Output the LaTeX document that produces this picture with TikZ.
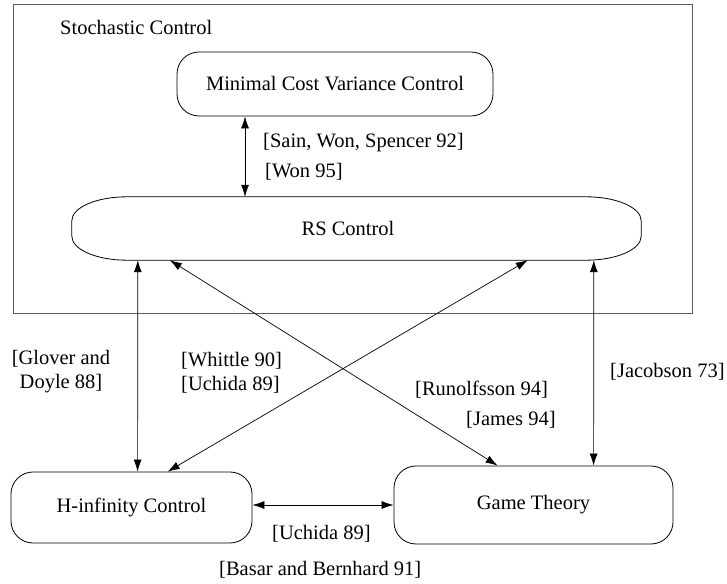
\documentclass[tikz,border=0pt]{standalone}
\usepackage{fontspec}
\setmainfont{Liberation Serif}
\usetikzlibrary{arrows.meta,positioning}
\definecolor{frameGray}{RGB}{90,90,90}

\begin{document}
\begin{tikzpicture}[
    x=1pt, y=1pt,
    every node/.style={font=\fontsize{20.5}{24}\selectfont, inner sep=0pt},
    topic/.style={rectangle, draw, rounded corners=22pt, line width=0.8pt},
    link/.style={{Latex[length=12pt,width=8pt]}-{Latex[length=12pt,width=8pt]}, line width=0.7pt}
  ]
  \useasboundingbox (0,0) rectangle (727,583);
  \draw[frameGray, line width=1pt] (13,269) rectangle (692,578);
  \node[anchor=west] (stoch) at (60,556) {Stochastic Control};

  \node[topic, minimum width=316pt, minimum height=64pt] (mcv)  at (335,499)     {Minimal Cost Variance Control};
  \node[minimum width=569pt, minimum height=63pt]        (rs)   at (356.5,354.5) {};
  \node                                                   (rstx) at (348,354.5)   {RS Control};
  \node[topic, minimum width=241pt, minimum height=71pt] (hinf) at (131.5,75.5)  {H-infinity Control};
  \node[topic, minimum width=279pt, minimum height=78pt] (game) at (533.5,78)    {Game Theory};

  % RS box: flat with elliptic ends
  \draw[line width=0.8pt] ([xshift=55pt]rs.north west) -- ([xshift=-55pt]rs.north east)
    arc[start angle=90, end angle=0, x radius=55pt, y radius=24pt] -- ([yshift=24pt]rs.south east)
    arc[start angle=0, end angle=-90, x radius=55pt, y radius=24pt] -- ([xshift=55pt]rs.south west)
    arc[start angle=270, end angle=180, x radius=55pt, y radius=24pt] -- ([yshift=-24pt]rs.north west)
    arc[start angle=180, end angle=90, x radius=55pt, y radius=24pt] -- cycle;

  \draw[link] ([xshift=-90pt]mcv.south) -- ([xshift=-111.5pt]rs.north);
  \draw[link] ([xshift=66pt]rs.south west) -- ([xshift=127pt]hinf.north west);
  \draw[link] ([xshift=98pt]rs.south west) -- ([xshift=104pt]game.north west);
  \draw[link] ([xshift=456pt]rs.south west) -- ([xshift=157pt]hinf.north west);
  \draw[link] ([xshift=522pt]rs.south west) -- ([xshift=200pt]game.north west);
  \draw[link] (hinf.east |- game.west) -- (game.west);

  \node[anchor=west] (sws)     at (263,440)   {[Sain, Won, Spencer 92]};
  \node[anchor=west] (won)     at (265,411)   {[Won 95]};
  \node[align=center] (glover) at (61,211)    {[Glover and\\Doyle 88]};
  \node[align=left, anchor=west] (whittle) at (181,210.5) {[Whittle 90]\\{}[Uchida 89]};
  \node[anchor=west] (runolf)  at (415,193)   {[Runolfsson 94]};
  \node[anchor=west] (james)   at (466,163)   {[James 94]};
  \node[anchor=west] (jacob)   at (610,211)   {[Jacobson 73]};
  \node[anchor=west] (uchida)  at (272,49)    {[Uchida 89]};
  \node[anchor=west] (basar)   at (219,13)    {[Basar and Bernhard 91]};
\end{tikzpicture}
\end{document}
